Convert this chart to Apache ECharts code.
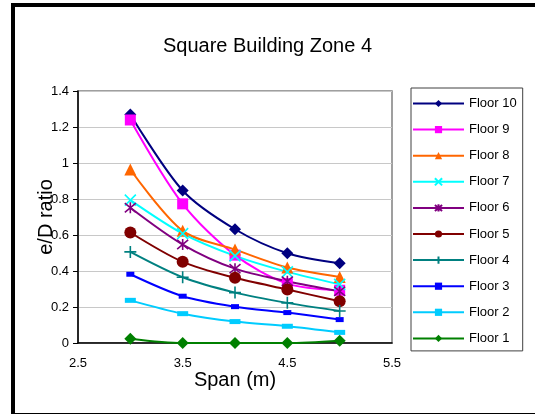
<!DOCTYPE html>
<html>
<head>
<meta charset="utf-8">
<script src="https://cdn.jsdelivr.net/npm/echarts@6/dist/echarts.min.js"></script>
<style>
html,body{margin:0;padding:0;background:#fff;}
#chart{width:535px;height:414px;}
</style>
</head>
<body>
<div id="chart"></div>
<script>
var spans = [3, 3.5, 4, 4.5, 5];
var xTickLabels = ['2.5', '3.5', '4.5', '5.5'];
var floorNames = ['Floor 10', 'Floor 9', 'Floor 8', 'Floor 7', 'Floor 6', 'Floor 5', 'Floor 4', 'Floor 3', 'Floor 2', 'Floor 1'];
var floor10 = [1.27, 0.847, 0.632, 0.499, 0.443];
var floor9  = [1.239, 0.773, 0.488, 0.33, 0.293];
var floor8  = [0.964, 0.623, 0.519, 0.419, 0.367];
var floor7  = [0.794, 0.608, 0.484, 0.395, 0.326];
var floor6  = [0.751, 0.547, 0.413, 0.343, 0.287];
var floor5  = [0.614, 0.451, 0.362, 0.297, 0.232];
var floor4  = [0.506, 0.365, 0.28, 0.223, 0.178];
var floor3  = [0.382, 0.26, 0.202, 0.169, 0.13];
var floor2  = [0.237, 0.163, 0.119, 0.093, 0.059];
var floor1  = [0.024, 0, 0, 0, 0.013];
var floorValues = [floor10, floor9, floor8, floor7, floor6, floor5, floor4, floor3, floor2, floor1];

var colors = ['#000080', '#FF00FF', '#FF6600', '#00FFFF', '#800080', '#800000', '#008080', '#0000FF', '#00CCFF', '#008000'];
var symbols = [
  {symbol: 'diamond', size: 12, stroke: false},
  {symbol: 'rect', size: 11, stroke: false},
  {symbol: 'triangle', size: 12, stroke: false},
  {symbol: 'path://M0,0L10,10M10,0L0,10', size: 11, stroke: true},
  {symbol: 'path://M0,0L10,10M10,0L0,10M5,-1L5,11', size: 11, stroke: true},
  {symbol: 'circle', size: 12, stroke: false},
  {symbol: 'path://M5,0L5,10M0,5L10,5', size: 12, stroke: true},
  {symbol: 'rect', size: [8, 5], stroke: false},
  {symbol: 'rect', size: [11, 5], stroke: false},
  {symbol: 'diamond', size: 12, stroke: false}
];

function pairs(vals) {
  return spans.map(function (s, i) { return [s, vals[i]]; });
}

var series = floorNames.map(function (name, i) {
  var sy = symbols[i];
  var is = {color: colors[i]};
  if (sy.stroke) { is.borderColor = colors[i]; is.borderWidth = 1.6; }
  return {
    name: name,
    type: 'line',
    data: pairs(floorValues[i]),
    smooth: 0.3,
    symbol: sy.symbol,
    symbolSize: sy.size,
    showAllSymbol: true,
    lineStyle: {color: colors[i], width: 2},
    itemStyle: is,
    emphasis: {disabled: true},
    animation: false
  };
});

var chart = echarts.init(document.getElementById('chart'), null, {renderer: 'canvas'});
var font = '"Liberation Sans", Arial, sans-serif';
chart.setOption({
  animation: false,
  backgroundColor: '#fff',
  textStyle: {fontFamily: font},
  title: {
    text: 'Square Building Zone 4',
    left: 'center',
    top: 31,
    textStyle: {fontFamily: font, fontSize: 20, fontWeight: 'normal', color: '#000'}
  },
  graphic: [
    {type: 'rect', shape: {x: 11, y: 3, width: 524, height: 4}, style: {fill: '#000'}},
    {type: 'rect', shape: {x: 11, y: 3, width: 4, height: 411}, style: {fill: '#000'}},
    {type: 'rect', shape: {x: 11, y: 413, width: 524, height: 1}, style: {fill: '#000'}},
    {type: 'rect', shape: {x: 78, y: 91, width: 314, height: 252}, style: {fill: 'none', stroke: '#808080', lineWidth: 1.5}, z: -1}
  ],
  legend: {
    orient: 'vertical',
    left: 411,
    top: 88,
    padding: [9, 6, 6, 1],
    itemWidth: 51,
    itemHeight: 9,
    itemGap: 13.1,
    borderColor: '#404040',
    borderWidth: 1,
    textStyle: {fontFamily: font, fontSize: 13, color: '#000', padding: [0, 0, 0, 0]},
    data: floorNames
  },
  grid: {left: 78, right: 143, top: 91, bottom: 71, containLabel: false},
  xAxis: {
    type: 'value',
    min: 2.5,
    max: 5.5,
    interval: 0.5,
    name: 'Span (m)',
    nameLocation: 'middle',
    nameGap: 27,
    nameMoveOverlap: false,
    nameTextStyle: {fontFamily: font, fontSize: 20, color: '#000'},
    axisLine: {show: true, onZero: false, lineStyle: {color: '#000', width: 1.5}},
    axisTick: {show: false},
    splitLine: {show: false},
    axisLabel: {
      fontFamily: font, fontSize: 13, color: '#000', margin: 14,
      formatter: function (v) {
        var s = String(v);
        return xTickLabels.indexOf(s) >= 0 ? s : '';
      }
    }
  },
  yAxis: {
    type: 'value',
    min: 0,
    max: 1.4,
    interval: 0.2,
    name: 'e/D ratio',
    nameLocation: 'middle',
    nameGap: 22,
    nameMoveOverlap: false,
    nameTextStyle: {fontFamily: font, fontSize: 20, color: '#000'},
    axisLine: {show: true, lineStyle: {color: '#000', width: 1.5}},
    axisTick: {show: true, inside: false, length: 5, lineStyle: {color: '#000'}},
    splitLine: {show: true, lineStyle: {color: '#c8c8c8', width: 1}},
    axisLabel: {fontFamily: font, fontSize: 13, color: '#000', margin: 9}
  },
  series: series
});
</script>
</body>
</html>
